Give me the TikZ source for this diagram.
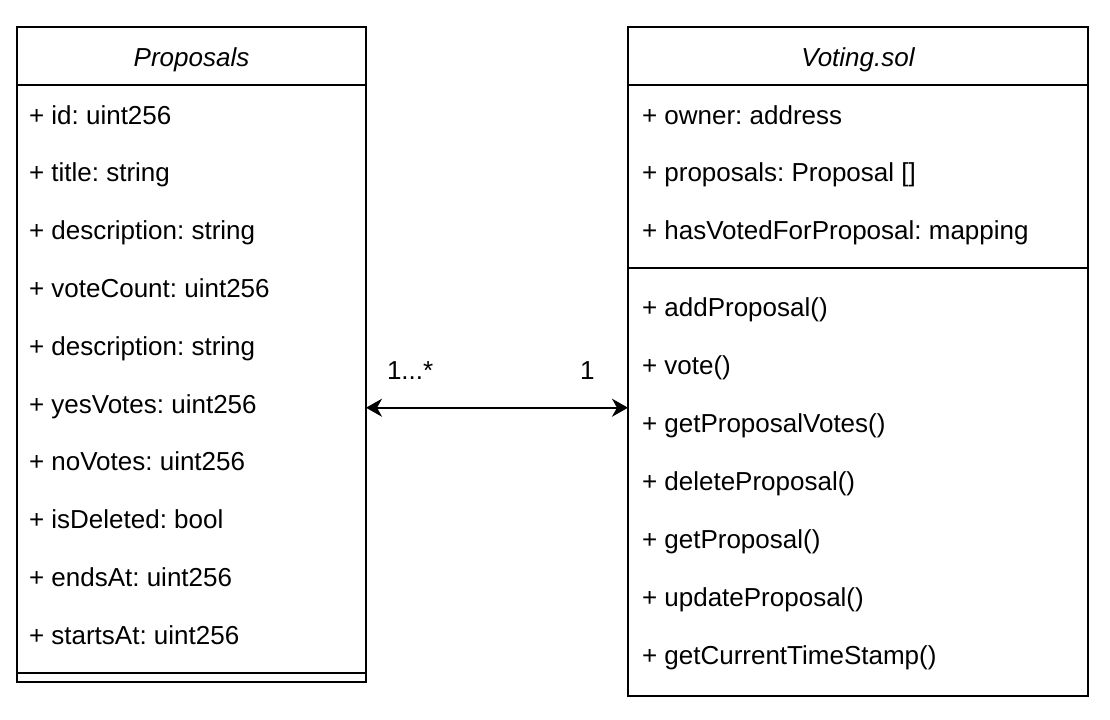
\documentclass[tikz,border=0pt]{standalone}
\usepackage{fontspec}
\setmainfont{Liberation Sans}
\usetikzlibrary{arrows.meta}
\frenchspacing

\begin{document}
\begin{tikzpicture}[x=0.5pt, y=-0.5pt, line width=1pt,
  every node/.style={inner sep=0pt, outer sep=0pt, font=\fontsize{13}{15}\selectfont},
  classbox/.style={draw, anchor=north west},
  row/.style={anchor=base west},
  assoc/.style={<->, >={Stealth[length=8pt, width=9pt, inset=2.5pt]}}]
  \useasboundingbox (0,0) rectangle (1110,719);
  \node[classbox, minimum width=174.5pt, minimum height=327.5pt] (prop) at (17,27) {};
  \node[classbox, minimum width=230pt, minimum height=334.5pt] (vot) at (628,27) {};
  \draw (17,85) -- (366,85);
  \draw (17,673) -- (366,673);
  \draw (628,85) -- (1088,85);
  \draw (628,268) -- (1088,268);

  \node[anchor=base, font=\fontsize{13}{15}\selectfont\itshape] (ptitle) at (191.5,66) {Proposals};
  \node[anchor=base, font=\fontsize{13}{15}\selectfont\itshape] (vtitle) at (858,66) {Voting.sol};

  \foreach \t [count=\i] in {{+ id: uint256},{+ title: string},{+ description: string},
      {+ voteCount: uint256},{+ description: string},{+ yesVotes: uint256},
      {+ noVotes: uint256},{+ isDeleted: bool},{+ endsAt: uint256},{+ startsAt: uint256}}
    \node[row] (p\i) at (29,{124+57.8*(\i-1)}) {\t};

  \foreach \t [count=\i] in {{+ owner: address},{+ proposals: Proposal []},
      {+ hasVotedForProposal: mapping}}
    \node[row] (v\i) at (642,{124+57.8*(\i-1)}) {\t};

  \foreach \t [count=\i] in {{+ addProposal()},{+ vote()},{+ getProposalVotes()},
      {+ deleteProposal()},{+ getProposal()},{+ updateProposal()},{+ getCurrentTimeStamp()}}
    \node[row] (m\i) at (642,{316+58*(\i-1)}) {\t};

  \node[row] (many) at (387,379) {1...*};
  \node[row] (one) at (580,379) {1};
  \draw[assoc] (p6.mid -| prop.east) -- (p6.mid -| vot.west);
\end{tikzpicture}
\end{document}
